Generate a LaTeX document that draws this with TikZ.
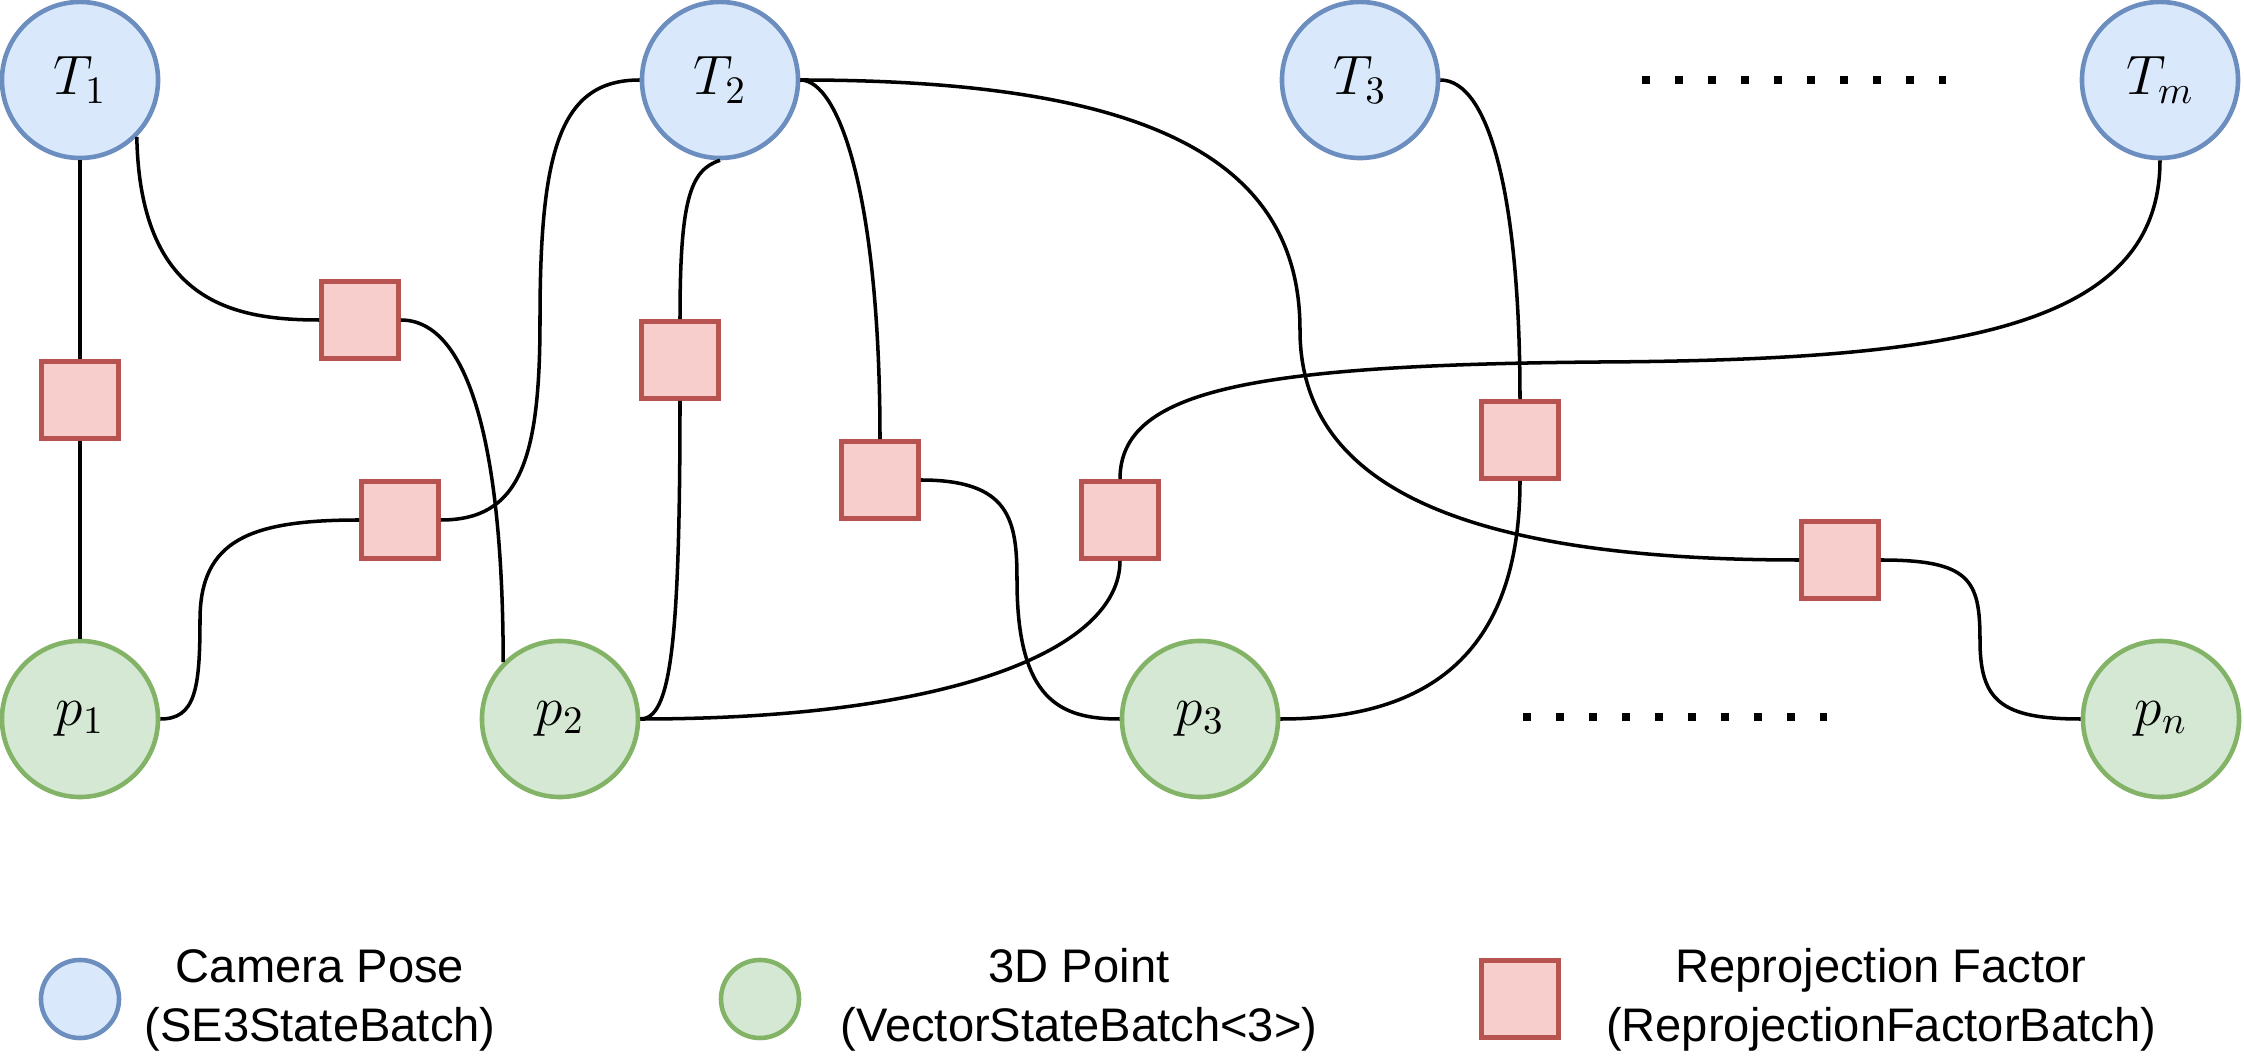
\RequirePackage{fix-cm}
\documentclass[tikz,border=0pt]{standalone}
\usepackage{fontspec}
\newfontfamily\legendfont{Liberation Sans}
\usetikzlibrary{positioning}
\definecolor{posefill}{HTML}{DAE8FC}
\definecolor{posedraw}{HTML}{6C8EBF}
\definecolor{pointfill}{HTML}{D5E8D4}
\definecolor{pointdraw}{HTML}{82B366}
\definecolor{factorfill}{HTML}{F8CECC}
\definecolor{factordraw}{HTML}{B85450}

\tikzset{
  pose/.style={circle, fill=posefill, draw=posedraw, line width=1.3pt, minimum size=1.56cm, inner sep=0pt, font=\fontsize{15.8}{18}\selectfont},
  point/.style={circle, fill=pointfill, draw=pointdraw, line width=1.3pt, minimum size=1.56cm, inner sep=0pt, font=\fontsize{15.8}{18}\selectfont},
  factor/.style={rectangle, fill=factorfill, draw=factordraw, line width=1.3pt, minimum size=0.77cm, inner sep=0pt},
  link/.style={line width=1pt, black},
  dotrow/.style={line width=0.08cm, dash pattern=on 0.08cm off 0.25cm},
  legtext/.style={font=\legendfont\fontsize{13.4}{16.8}\selectfont, align=center, inner sep=0pt},
}

\begin{document}
\begin{tikzpicture}[x=0.01cm, y=-0.01cm]
  \useasboundingbox (0,0) rectangle (2244,1064);
  % Camera poses
  \node[pose] (T1) at (80,80) {$T_1$};
  \node[pose] (T2) at (720,80) {$T_2$};
  \node[pose] (T3) at (1360,80) {$T_3$};
  \node[pose] (Tm) at (2160,80) {$T_m$};
  % 3D points
  \node[point] (p1) at (80,719) {$p_1$};
  \node[point] (p2) at (560,719) {$p_2$};
  \node[point] (p3) at (1200,719) {$p_3$};
  \node[point] (pn) at (2161,719) {$p_n$};
  % Reprojection factors
  \node[factor] (f1) at (80,400) {};
  \node[factor] (f2) at (360,320) {};
  \node[factor] (f3) at (400,520) {};
  \node[factor] (f4) at (680,360) {};
  \node[factor] (f5) at (880,480) {};
  \node[factor] (f6) at (1120,520) {};
  \node[factor] (f7) at (1520,440) {};
  \node[factor] (f8) at (1840,560) {};
  % Dots
  \coordinate (dotsTa) at (1642,80);
  \coordinate (dotsTb) at (1946,80);
  \coordinate (dotspa) at (1523,717);
  \coordinate (dotspb) at (1827,717);
  \draw[dotrow] (dotsTa) -- (dotsTb);
  \draw[dotrow] (dotspa) -- (dotspb);
  % Edges
  \draw[link] (T1.south) -- (f1.north);
  \draw[link] (f1.south) -- (p1.north);
  \draw[link] (T1.south east) .. controls (140,300) and (230,320) .. (f2.west);
  \draw[link] (f2.east) .. controls (470,320) and (503,450) .. (p2.north west);
  \draw[link] (p1.east) .. controls (195,719) and (200,690) .. (200,620)
    .. controls (200,540) and (250,520) .. (f3.west);
  \draw[link] (f3.east) .. controls (520,520) and (540,460) .. (540,320)
    .. controls (540,150) and (560,80) .. (T2.west);
  \draw[link] (T2.south) .. controls (690,170) and (680,200) .. (f4.north);
  \draw[link] (f4.south) .. controls (680,650) and (670,719) .. (p2.east);
  \draw[link] (T2.east) .. controls (840,80) and (880,200) .. (f5.north);
  \draw[link] (f5.east) .. controls (1010,480) and (1017,520) .. (1017,580)
    .. controls (1017,700) and (1060,719) .. (p3.west);
  \draw[link] (p2.east) .. controls (950,719) and (1120,650) .. (f6.south);
  \draw[link] (Tm.south) .. controls (2160,330) and (1950,360) .. (1600,362)
    .. controls (1250,365) and (1120,390) .. (f6.north);
  \draw[link] (T2.east) .. controls (1150,80) and (1300,160) .. (1300,330)
    .. controls (1300,480) and (1450,560) .. (f8.west);
  \draw[link] (T3.east) .. controls (1490,80) and (1520,200) .. (f7.north);
  \draw[link] (f7.south) .. controls (1520,670) and (1410,719) .. (p3.east);
  \draw[link] (f8.east) .. controls (1970,560) and (1980,580) .. (1980,640)
    .. controls (1980,700) and (2000,719) .. (pn.west);
  % Legend
  \node[pose, minimum size=0.78cm] (legpose) at (80,999) {};
  \node[legtext] (legposetext) at (320,1000) {Camera Pose\\(SE3StateBatch)};
  \node[point, minimum size=0.78cm] (legpoint) at (760,999) {};
  \node[legtext] (legpointtext) at (1079,1000) {3D Point\\(VectorStateBatch<3>)};
  \node[factor] (legfactor) at (1520,999) {};
  \node[legtext] (legfactortext) at (1881,1000) {Reprojection Factor\\(ReprojectionFactorBatch)};
\end{tikzpicture}
\end{document}
